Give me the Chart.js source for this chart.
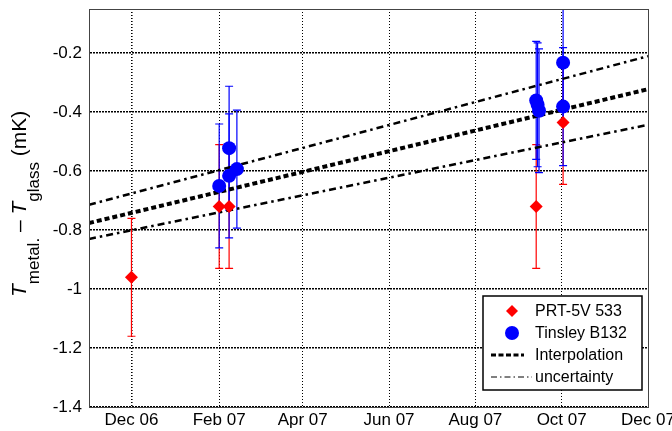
<!DOCTYPE html>
<html>
<head>
<meta charset="utf-8">
<script src="https://cdn.jsdelivr.net/npm/chart.js@4.4.0/dist/chart.umd.min.js"></script>
<style>
  html, body { margin: 0; padding: 0; background: #fff; }
  #wrap { width: 672px; height: 431px; }
</style>
</head>
<body>
<div id="wrap"><canvas id="chart" width="672" height="431"></canvas></div>
<script>
// x values are days counted from 1 Dec 2006
const xTickDays = [0, 62, 121, 182, 243, 304, 365];
const xTickLabels = ["Dec 06", "Feb 07", "Apr 07", "Jun 07", "Aug 07", "Oct 07", "Dec 07"];
const yTicks = [-1.4, -1.2, -1, -0.8, -0.6, -0.4, -0.2];
const yTickLabels = ["-1.4", "-1.2", "-1", "-0.8", "-0.6", "-0.4", "-0.2"];

const prtDays = [0, 62, 69, 286, 305];
const prtValues = [-0.96, -0.72, -0.72, -0.72, -0.435];
const prtErrors = [0.2, 0.21, 0.21, 0.21, 0.21];

const tinsleyDays = [62, 69, 69, 74.5, 286, 287, 288, 305, 305];
const tinsleyValues = [-0.65, -0.522, -0.616, -0.593, -0.36, -0.375, -0.395, -0.232, -0.381];
const tinsleyErrors = [0.21, 0.21, 0.21, 0.2, 0.2, 0.21, 0.21, 0.21, 0.2];

const fitDays = [-30, 365];
const fitValues = [-0.776, -0.322];
const upperValues = [-0.714, -0.21];
const lowerValues = [-0.83, -0.443];

const FONT = '"Liberation Sans", Arial, Helvetica, sans-serif';

const pts = (xs, ys) => xs.map((x, i) => ({ x: x, y: ys[i] }));

// vertical error bars with caps, drawn under the markers
const errorBars = {
  id: 'errorBars',
  beforeDatasetsDraw(chart) {
    const { ctx, chartArea, scales } = chart;
    ctx.save();
    ctx.beginPath();
    ctx.rect(chartArea.left, chartArea.top, chartArea.right - chartArea.left, chartArea.bottom - chartArea.top);
    ctx.clip();
    chart.data.datasets.forEach(ds => {
      if (!ds.errors) return;
      ctx.strokeStyle = ds.errorColor;
      ctx.lineWidth = 1.2;
      ds.data.forEach((p, i) => {
        const x = scales.x.getPixelForValue(p.x);
        const y1 = scales.y.getPixelForValue(p.y + ds.errors[i]);
        const y2 = scales.y.getPixelForValue(p.y - ds.errors[i]);
        ctx.beginPath();
        ctx.moveTo(x, y1); ctx.lineTo(x, y2);
        ctx.moveTo(x - 4, y1); ctx.lineTo(x + 4, y1);
        ctx.moveTo(x - 4, y2); ctx.lineTo(x + 4, y2);
        ctx.stroke();
      });
    });
    ctx.restore();
  }
};

// plot frame, rotated y title with subscripts, boxed legend
const decorations = {
  id: 'decorations',
  afterDraw(chart) {
    const { ctx, chartArea } = chart;
    ctx.save();
    ctx.strokeStyle = '#444';
    ctx.lineWidth = 1;
    ctx.strokeRect(chartArea.left + 0.5, chartArea.top + 0.5, chartArea.right - chartArea.left, chartArea.bottom - chartArea.top);

    // y title
    const parts = [
      { text: 'T', font: 'italic 21px ' + FONT, dy: 0 },
      { text: 'metal.', font: '17px ' + FONT, dy: 13 },
      { text: ' \u2013 ', font: '21px ' + FONT, dy: 0 },
      { text: 'T', font: 'italic 21px ' + FONT, dy: 0 },
      { text: 'glass', font: '17px ' + FONT, dy: 13 },
      { text: ' (mK)', font: '21px ' + FONT, dy: 0 }
    ];
    ctx.translate(26, 297);
    ctx.rotate(-Math.PI / 2);
    ctx.fillStyle = '#000';
    ctx.textBaseline = 'alphabetic';
    let tx = 0;
    parts.forEach(p => {
      ctx.font = p.font;
      ctx.fillText(p.text, tx, p.dy);
      tx += ctx.measureText(p.text).width;
    });
    ctx.restore();

    // legend
    const bx = chartArea.right - 165, by = chartArea.bottom - 111, bw = 159, bh = 94;
    ctx.save();
    ctx.fillStyle = '#fff';
    ctx.fillRect(bx, by, bw, bh);
    ctx.strokeStyle = '#000';
    ctx.lineWidth = 1.5;
    ctx.strokeRect(bx, by, bw, bh);
    const rows = [by + 15, by + 37, by + 59, by + 81];
    ctx.fillStyle = 'red';
    Chart.helpers.drawPoint(ctx, { pointStyle: 'rectRot', radius: 6, rotation: 0, borderWidth: 0 }, bx + 29, rows[0]);
    ctx.fillStyle = 'blue';
    Chart.helpers.drawPoint(ctx, { pointStyle: 'circle', radius: 7, rotation: 0, borderWidth: 0 }, bx + 29, rows[1]);
    ctx.strokeStyle = '#000';
    ctx.lineWidth = 3;
    ctx.setLineDash([5, 2.5]);
    ctx.beginPath(); ctx.moveTo(bx + 8, rows[2]); ctx.lineTo(bx + 41, rows[2]); ctx.stroke();
    ctx.lineWidth = 1;
    ctx.setLineDash([6, 3, 1.5, 3]);
    ctx.beginPath(); ctx.moveTo(bx + 8, rows[3]); ctx.lineTo(bx + 49, rows[3]); ctx.stroke();
    ctx.setLineDash([]);
    ctx.fillStyle = '#000';
    ctx.font = '16px ' + FONT;
    ctx.textBaseline = 'middle';
    ctx.textAlign = 'left';
    ["PRT-5V 533", "Tinsley B132", "Interpolation", "uncertainty"].forEach((t, i) => {
      ctx.fillText(t, bx + 52, rows[i] + 1);
    });
    ctx.restore();
  }
};

new Chart(document.getElementById('chart'), {
  type: 'scatter',
  data: {
    datasets: [
      {
        label: 'PRT-5V 533',
        data: pts(prtDays, prtValues),
        errors: prtErrors,
        errorColor: '#ff0000',
        pointStyle: 'rectRot',
        pointRadius: 6.5,
        pointBackgroundColor: 'red',
        pointBorderWidth: 0,
        order: 1
      },
      {
        label: 'Tinsley B132',
        data: pts(tinsleyDays, tinsleyValues),
        errors: tinsleyErrors,
        errorColor: '#0000ff',
        pointStyle: 'circle',
        pointRadius: 7,
        pointBackgroundColor: 'blue',
        pointBorderWidth: 0,
        order: 2
      },
      {
        type: 'line',
        label: 'Interpolation',
        data: pts(fitDays, fitValues),
        borderColor: '#000',
        borderWidth: 4,
        borderDash: [5, 3],
        pointRadius: 0,
        order: 3
      },
      {
        type: 'line',
        label: 'uncertainty',
        data: pts(fitDays, upperValues),
        borderColor: '#000',
        borderWidth: 2.5,
        borderDash: [7, 4, 2.5, 4],
        pointRadius: 0,
        order: 4
      },
      {
        type: 'line',
        label: 'uncertainty lower',
        data: pts(fitDays, lowerValues),
        borderColor: '#000',
        borderWidth: 2.5,
        borderDash: [7, 4, 2.5, 4],
        pointRadius: 0,
        order: 5
      }
    ]
  },
  options: {
    responsive: false,
    animation: false,
    layout: { padding: { top: 9, right: 24, bottom: 0, left: 0 } },
    plugins: { legend: { display: false }, tooltip: { enabled: false } },
    scales: {
      x: {
        type: 'linear',
        min: -30,
        max: 365,
        afterBuildTicks: s => { s.ticks = xTickDays.map(v => ({ value: v })); },
        afterFit: s => { s.height = 24; s.paddingLeft = 0; s.paddingRight = 0; },
        ticks: {
          callback: (v, i) => xTickLabels[i],
          font: { size: 17, family: FONT },
          color: '#000',
          padding: 3,
          maxRotation: 0,
          autoSkip: false
        },
        grid: { color: '#000', lineWidth: c => (c.index === 0 ? 1.6 : 1), drawTicks: false },
        border: { color: '#444', width: 1, dash: [1, 2] }
      },
      y: {
        min: -1.4,
        max: -0.05,
        afterBuildTicks: s => { s.ticks = yTicks.map(v => ({ value: v })); },
        afterFit: s => { s.width = 89; s.paddingTop = 0; s.paddingBottom = 0; },
        ticks: {
          callback: (v, i) => yTickLabels[i],
          font: { size: 17, family: FONT },
          color: '#000',
          padding: 7
        },
        grid: { color: '#000', lineWidth: 1.5, drawTicks: false },
        border: { color: '#444', width: 1, dash: [2, 1] }
      }
    }
  },
  plugins: [errorBars, decorations]
});
</script>
</body>
</html>
